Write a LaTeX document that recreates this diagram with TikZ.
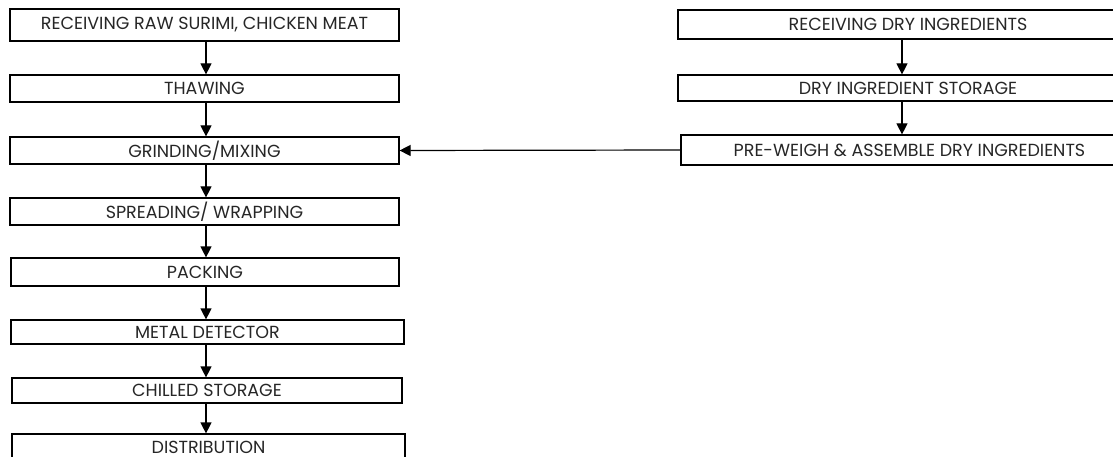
\documentclass[tikz,border=0pt]{standalone}
\usepackage{fontspec}
\setmainfont{Poppins}
\usetikzlibrary{arrows.meta}
\tikzset{
  box/.style={draw=black, line width=1.2pt, rectangle, inner sep=0pt, font=\fontsize{17.5}{19}\selectfont, text=black!85},
  arr/.style={line width=1.2pt, -{Triangle[width=11pt,length=11pt]}},
}
\begin{document}
\begin{tikzpicture}[x=1pt,y=-1pt]
\useasboundingbox (0,0) rectangle (1113,457);
\clip (0,0) rectangle (1113,457);
\coordinate (colL) at (206,0);
\coordinate (colR) at (902,0);
\node[box, minimum width=389pt, minimum height=32pt] (n1) at (204.5,25) {RECEIVING RAW SURIMI, CHICKEN MEAT};
\node[box, minimum width=389pt, minimum height=27pt] (n2) at (204.5,88.5) {THAWING};
\node[box, minimum width=389pt, minimum height=27pt] (n3) at (204.5,150.5) {GRINDING/MIXING};
\node[box, minimum width=389pt, minimum height=27pt] (n4) at (204.5,211.5) {SPREADING/ WRAPPING};
\node[box, minimum width=388pt, minimum height=28pt] (n5) at (205,272) {PACKING};
\node[box, minimum width=393pt, minimum height=24pt] (n6) at (207.5,332) {METAL DETECTOR};
\node[box, minimum width=390pt, minimum height=25pt] (n7) at (207,390.5) {CHILLED STORAGE};
\node[box, minimum width=393pt, minimum height=26pt] (n8) at (208.5,447) {DISTRIBUTION};
\node[box, minimum width=460pt, minimum height=29pt] (r1) at (908,24.5) {RECEIVING DRY INGREDIENTS};
\node[box, minimum width=460pt, minimum height=26pt] (r2) at (908,88) {DRY INGREDIENT STORAGE};
\node[box, minimum width=457pt, minimum height=30pt] (r3) at (909.5,150) {PRE-WEIGH \& ASSEMBLE DRY INGREDIENTS};
\foreach \a/\b in {n1/n2,n2/n3,n3/n4,n4/n5,n5/n6,n6/n7,n7/n8}
  \draw[arr] (\a.south -| colL) -- (\b.north -| colL);
\foreach \a/\b in {r1/r2,r2/r3}
  \draw[arr] (\a.south -| colR) -- (\b.north -| colR);
\draw[arr] (r3.west) -- (n3.east);
\end{tikzpicture}
\end{document}
